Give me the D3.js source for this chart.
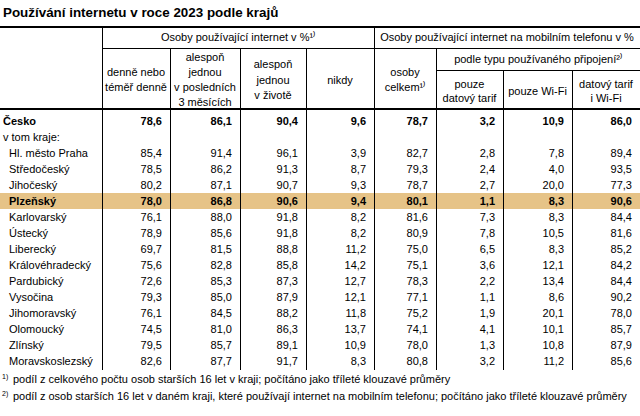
<!DOCTYPE html>
<html><head><meta charset="utf-8">
<script src="https://cdn.jsdelivr.net/npm/d3@7"></script>
<style>
html,body{margin:0;padding:0;background:#fff;}
svg{display:block;font-family:"Liberation Sans",Arial,sans-serif;}
</style></head>
<body><svg id="c" width="640" height="416"></svg>
<script>
// ---- data ----
const title = "Používání internetu v roce 2023 podle krajů";
const rowLabels = ["Česko","v tom kraje:","Hl. město Praha","Středočeský","Jihočeský","Plzeňský","Karlovarský","Ústecký","Liberecký","Královéhradecký","Pardubický","Vysočina","Jihomoravský","Olomoucký","Zlínský","Moravskoslezský"];
const dataRows = ["Česko","Hl. město Praha","Středočeský","Jihočeský","Plzeňský","Karlovarský","Ústecký","Liberecký","Královéhradecký","Pardubický","Vysočina","Jihomoravský","Olomoucký","Zlínský","Moravskoslezský"];
const daily       = [78.6,85.4,78.5,80.2,78.0,76.1,78.9,69.7,75.6,72.6,79.3,76.1,74.5,79.5,82.6];
const last3Months = [86.1,91.4,86.2,87.1,86.8,88.0,85.6,81.5,82.8,85.3,85.0,84.5,81.0,85.7,87.7];
const ever        = [90.4,96.1,91.3,90.7,90.6,91.8,91.8,88.8,85.8,87.3,87.9,88.2,86.3,89.1,91.7];
const never       = [9.6,3.9,8.7,9.3,9.4,8.2,8.2,11.2,14.2,12.7,12.1,11.8,13.7,10.9,8.3];
const mobileTotal = [78.7,82.7,79.3,78.7,80.1,81.6,80.9,75.0,75.1,78.3,77.1,75.2,74.1,78.0,80.8];
const dataOnly    = [3.2,2.8,2.4,2.7,1.1,7.3,7.8,6.5,3.6,2.2,1.1,1.9,4.1,1.3,3.2];
const wifiOnly    = [10.9,7.8,4.0,20.0,8.3,8.3,10.5,8.3,12.1,13.4,8.6,20.1,10.1,10.8,11.2];
const dataAndWifi = [86.0,89.4,93.5,77.3,90.6,84.4,81.6,85.2,84.2,84.4,90.2,78.0,85.7,87.9,85.6];
const columns = ["daily","last3Months","ever","never","mobileTotal","dataOnly","wifiOnly","dataAndWifi"];
const columnHeaders = [["denně nebo","téměř denně"],["alespoň","jednou","v posledních","3 měsících"],["alespoň","jednou","v životě"],["nikdy"],["osoby","celkem¹⁾"],["pouze","datový tarif"],["pouze Wi-Fi"],["datový tarif","i Wi-Fi"]];
const group1 = "Osoby používající internet v %¹⁾";
const group2 = "Osoby používající internet na mobilním telefonu v %";
const group3 = "podle typu používaného připojení²⁾";
const boldRows = ["Česko","Plzeňský"];
const highlightRow = "Plzeňský";
const footnotes = [["1)","podíl z celkového počtu osob starších 16 let v kraji; počítáno jako tříleté klouzavé průměry"],
                   ["2)","podíl z osob starších 16 let v daném kraji, které používají internet na mobilním telefonu; počítáno jako tříleté klouzavé průměry"]];
const series = {daily,last3Months,ever,never,mobileTotal,dataOnly,wifiOnly,dataAndWifi};

// ---- layout ----
const svg = d3.select("#c");
const W = 640;
const fmt = d3.formatLocale({decimal:",",thousands:" ",grouping:[3],currency:["","Kč"]}).format(".1f");
const y = d3.scaleBand().domain(rowLabels).range([113,369]);
const colLeft = d3.scaleOrdinal().domain(columns).range([102,170,240,306,374,436,503,572]);
const colRight = d3.scaleOrdinal().domain(columns).range([170,240,306,374,436,503,572,640]);
const labelX = 102;
const hlColor = "#e6c387";

// title
svg.append("text").attr("x",3).attr("y",17).attr("font-size",13.4).attr("font-weight","bold").attr("fill","#000").text(title);

// highlight band
svg.append("rect").attr("x",0).attr("y",y(highlightRow)).attr("width",W).attr("height",y.bandwidth()).attr("fill",hlColor);

// lines
const lines = svg.append("g").attr("stroke","#000").attr("shape-rendering","crispEdges");
lines.append("line").attr("x1",0).attr("x2",W).attr("y1",26.5).attr("y2",26.5).attr("stroke-width",2);
lines.append("line").attr("x1",0).attr("x2",W).attr("y1",108.5).attr("y2",108.5).attr("stroke-width",2);
lines.append("line").attr("x1",labelX).attr("x2",W).attr("y1",48.5).attr("y2",48.5);
lines.append("line").attr("x1",colLeft("dataOnly")).attr("x2",W).attr("y1",70.5).attr("y2",70.5);
const vTop = {daily:26,last3Months:48,ever:48,never:48,mobileTotal:26,dataOnly:48,wifiOnly:70,dataAndWifi:70};
columns.forEach(c=>{
  lines.append("line").attr("x1",colLeft(c)+0.5).attr("x2",colLeft(c)+0.5).attr("y1",vTop[c]).attr("y2",370);
});

// group headers
const hdr = svg.append("g").attr("font-size",11).attr("fill","#000").attr("text-anchor","middle");
hdr.append("text").attr("x",(colLeft("daily")+colLeft("mobileTotal"))/2).attr("y",41).text(group1);
hdr.append("text").attr("x",(colLeft("mobileTotal")+W)/2).attr("y",41).text(group2);
hdr.append("text").attr("x",(colLeft("dataOnly")+W)/2).attr("y",63).text(group3);

// column headers
columns.forEach((c,i)=>{
  const lines_ = columnHeaders[i];
  const sub = ["dataOnly","wifiOnly","dataAndWifi"].includes(c);
  const top = sub?70:48, bot = 108;
  const lh = sub?14:15.3;
  const cy = (top+bot)/2 + 1.5;
  const t = hdr.append("text").attr("x",(colLeft(c)+colRight(c))/2);
  lines_.forEach((s,j)=>{
    t.append("tspan").attr("x",(colLeft(c)+colRight(c))/2)
     .attr("y", cy + (j-(lines_.length-1)/2)*lh + 4).text(s);
  });
});

// row labels
const body = svg.append("g").attr("font-size",11).attr("fill","#000");
rowLabels.forEach(r=>{
  const top = (r==="Česko"||r==="v tom kraje:");
  body.append("text").attr("x",top?3:9).attr("y",y(r)+y.bandwidth()/2+4)
    .attr("font-weight",boldRows.includes(r)?"bold":"normal").text(r);
});

// cells
dataRows.forEach((r,i)=>{
  columns.forEach(c=>{
    body.append("text").attr("text-anchor","end")
      .attr("x",colRight(c)-8).attr("y",y(r)+y.bandwidth()/2+4)
      .attr("font-weight",boldRows.includes(r)?"bold":"normal")
      .text(fmt(series[c][i]));
  });
});

// footnotes
const fn = svg.append("g").attr("font-size",11).attr("fill","#000");
footnotes.forEach((f,i)=>{
  const by = 383 + i*17;
  fn.append("text").attr("x",2).attr("y",by-4).attr("font-size",7).text(f[0]);
  fn.append("text").attr("x",13).attr("y",by).text(f[1]);
});
</script></body></html>
